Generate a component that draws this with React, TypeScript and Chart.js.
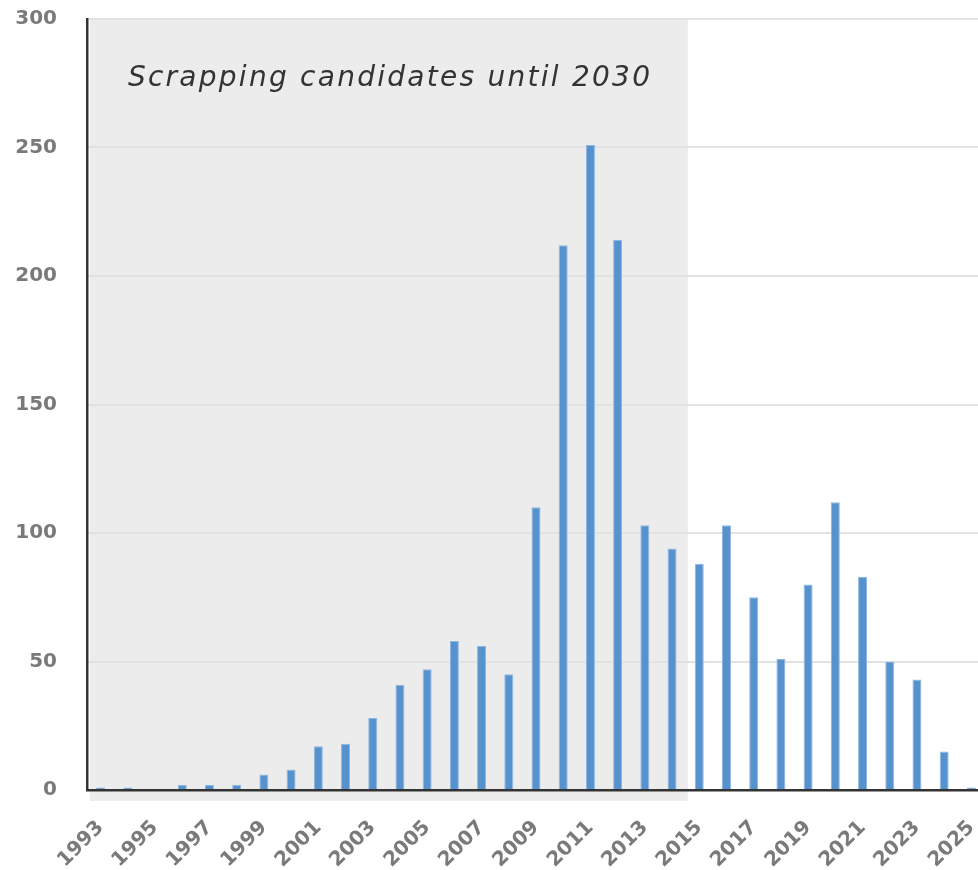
import React, { useEffect, useRef } from "react";
import { Chart, registerables } from "chart.js";

Chart.register(...registerables);

const years: string[] = [
  "1993", "1994", "1995", "1996", "1997", "1998", "1999", "2000", "2001", "2002", "2003",
  "2004", "2005", "2006", "2007", "2008", "2009", "2010", "2011", "2012", "2013", "2014",
  "2015", "2016", "2017", "2018", "2019", "2020", "2021", "2022", "2023", "2024", "2025",
];

const shipCounts: number[] = [
  1, 1, 0, 2, 2, 2, 6, 8, 17, 18, 28,
  41, 47, 58, 56, 45, 110, 212, 251, 214, 103, 94,
  88, 103, 75, 51, 80, 112, 83, 50, 43, 15, 1,
];

const yTicks: number[] = [0, 50, 100, 150, 200, 250, 300];

const shadedUntil = "2014";
const shadedLabel = "Scrapping candidates until 2030";

const axisFont = "'DejaVu Sans', 'Open Sans', sans-serif";

const shadedRegion = {
  id: "shadedRegion",
  beforeDraw(chart: any) {
    const { ctx, chartArea, scales } = chart;
    const x = scales.x;
    const y = scales.y;
    const idx = years.indexOf(shadedUntil);
    const step = x.getPixelForValue(1) - x.getPixelForValue(0);
    const left = chartArea.left + 3;
    const right = x.getPixelForValue(idx) + step * 0.58;
    const top = y.getPixelForValue(yTicks[yTicks.length - 1]) + 1;
    const bottom = chartArea.bottom + 11;
    ctx.save();
    ctx.fillStyle = "#ececec";
    ctx.fillRect(left, top, right - left, bottom - top);

    ctx.fillStyle = "#333333";
    ctx.font = `italic 28px ${axisFont}`;
    ctx.textAlign = "center";
    ctx.textBaseline = "alphabetic";
    const target = 522;
    const w = ctx.measureText(shadedLabel).width;
    const spacing = (target - w) / (shadedLabel.length - 1);
    (ctx as any).letterSpacing = `${spacing.toFixed(2)}px`;
    ctx.fillText(shadedLabel, (left + right) / 2 + spacing / 2, top + 66);
    ctx.restore();
  },
};

export default function App() {
  const canvasRef = useRef<HTMLCanvasElement>(null);

  useEffect(() => {
    if (!canvasRef.current) return;
    const chart = new Chart(canvasRef.current, {
      type: "bar",
      data: {
        labels: years,
        datasets: [
          {
            data: shipCounts,
            backgroundColor: "#5592ce",
            borderColor: "#8fb6e0",
            borderWidth: { left: 1, right: 1, top: 1, bottom: 0 },
            barPercentage: 0.33,
            categoryPercentage: 1,
          },
        ],
      },
      options: {
        responsive: false,
        animation: false,
        maintainAspectRatio: false,
        layout: { padding: { top: 19, left: 0, right: 0, bottom: 0 } },
        plugins: {
          legend: { display: false },
          tooltip: { enabled: false },
        },
        scales: {
          x: {
            offset: true,
            grid: { display: false, drawTicks: false },
            border: { display: true, color: "#333333", width: 2.5 },
            afterFit(scale: any) {
              scale.height = 80;
              scale.paddingLeft = 0;
              scale.paddingRight = 0;
            },
            ticks: {
              autoSkip: false,
              maxRotation: 45,
              minRotation: 45,
              padding: 26,
              color: "#7a7a7a",
              font: { family: axisFont, size: 20, weight: "bold" },
              callback(_v: any, i: number) {
                return i % 2 === 0 ? years[i] : "";
              },
            },
          },
          y: {
            min: 0,
            max: 300,
            afterFit(scale: any) {
              scale.width = 87;
              scale.paddingTop = 0;
              scale.paddingBottom = 0;
            },
            afterBuildTicks(scale: any) {
              scale.ticks = yTicks.map((v) => ({ value: v }));
            },
            grid: { color: "#e2e2e2", lineWidth: 2, drawTicks: false },
            border: { display: true, color: "#333333", width: 2.5 },
            ticks: {
              padding: 30,
              color: "#7a7a7a",
              font: { family: axisFont, size: 20, weight: "bold" },
            },
          },
        },
      },
      plugins: [shadedRegion],
    });
    return () => chart.destroy();
  }, []);

  return (
    <div
      style={{
        position: "absolute",
        left: 0,
        top: 0,
        width: 978,
        height: 870,
        overflow: "hidden",
        background: "#ffffff",
      }}
    >
      <canvas ref={canvasRef} width={985} height={870} style={{ display: "block" }} />
    </div>
  );
}
